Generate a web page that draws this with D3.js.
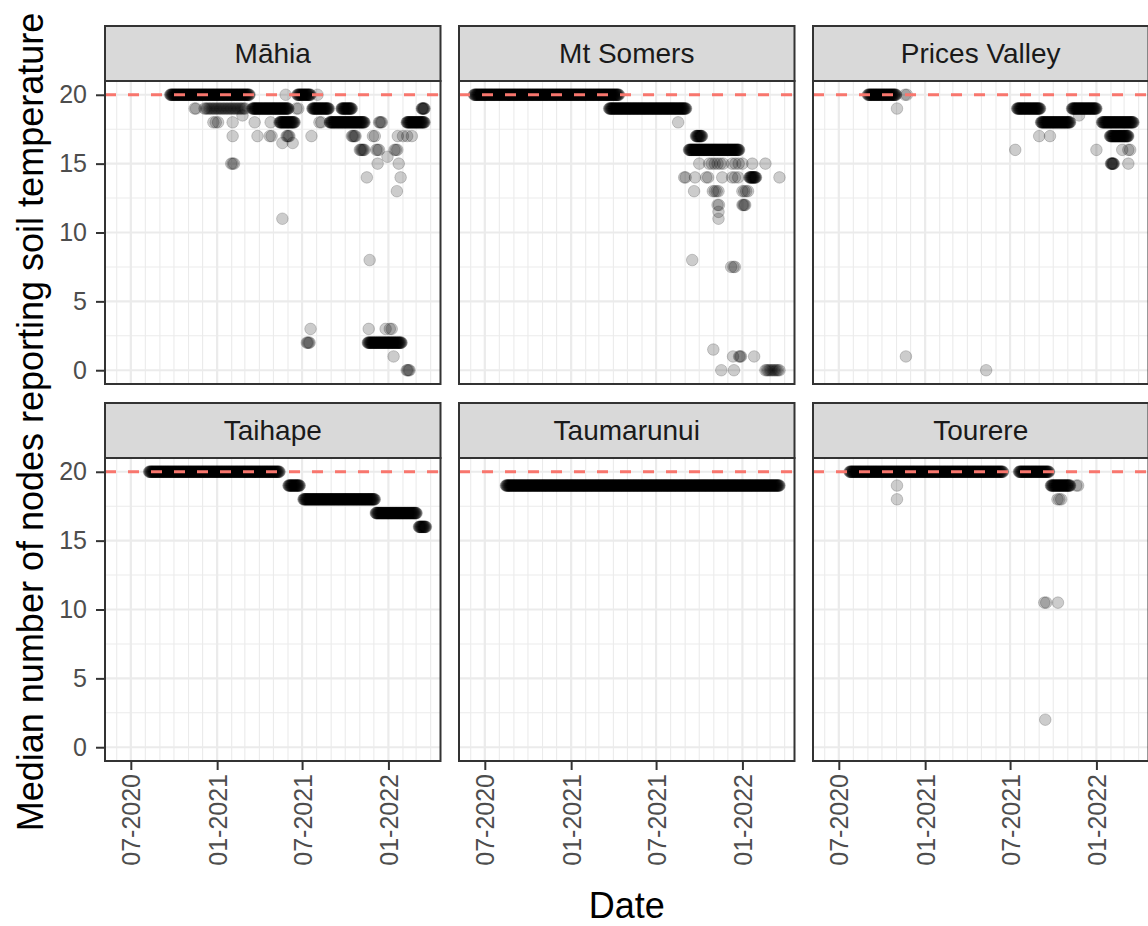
<!DOCTYPE html>
<html>
<head>
<meta charset="utf-8">
<script src="https://cdn.jsdelivr.net/npm/d3@7"></script>
<style>
  html, body { margin: 0; padding: 0; background: #fff; }
  svg { display: block; font-family: "Liberation Sans", Arial, sans-serif; }
</style>
</head>
<body>
<svg id="chart" width="1148" height="926"></svg>
<script>
// Sites, one facet each
const sites = ["Māhia", "Mt Somers", "Prices Valley", "Taihape", "Taumarunui", "Tourere"];

// Axis breaks
const xTickDates = ["2020-07-01", "2021-01-01", "2021-07-01", "2022-01-01"];
const yTicks = [0, 5, 10, 15, 20];
const yMinorTicks = [2.5, 7.5, 12.5, 17.5];
const targetNodes = 20;

// Stretches where a site's daily median held steady:
// [site, first day, last day, median nodes, days between readings]
const runs = [
  ["Māhia", "2020-09-23", "2021-03-11", 20, 1],
  ["Māhia", "2021-06-21", "2021-07-19", 20, 1],
  ["Māhia", "2020-12-05", "2021-03-02", 19, 3],
  ["Māhia", "2021-03-17", "2021-06-02", 19, 1],
  ["Māhia", "2021-07-23", "2021-08-27", 19, 1],
  ["Māhia", "2021-09-23", "2021-10-15", 19, 1],
  ["Māhia", "2022-03-13", "2022-03-19", 19, 1],
  ["Māhia", "2021-05-14", "2021-06-15", 18, 1],
  ["Māhia", "2021-08-29", "2021-11-11", 18, 1],
  ["Māhia", "2022-02-09", "2022-03-19", 18, 1],
  ["Māhia", "2021-11-01", "2021-11-11", 16, 2],
  ["Māhia", "2021-11-18", "2022-01-29", 2, 1],

  ["Mt Somers", "2020-06-08", "2021-04-13", 20, 1],
  ["Mt Somers", "2021-03-23", "2021-09-03", 19, 1],
  ["Mt Somers", "2021-09-24", "2021-10-07", 17, 1],
  ["Mt Somers", "2021-09-09", "2021-12-25", 16, 1],
  ["Mt Somers", "2021-10-22", "2021-11-21", 15, 6],
  ["Mt Somers", "2022-01-16", "2022-01-30", 14, 1],
  ["Mt Somers", "2022-02-19", "2022-03-23", 0, 3],

  ["Prices Valley", "2020-09-01", "2020-10-31", 20, 1],
  ["Prices Valley", "2021-07-16", "2021-09-03", 19, 1],
  ["Prices Valley", "2021-11-10", "2022-01-01", 19, 1],
  ["Prices Valley", "2021-09-05", "2021-11-06", 18, 1],
  ["Prices Valley", "2022-01-13", "2022-03-21", 18, 1],
  ["Prices Valley", "2022-01-30", "2022-03-10", 17, 1],

  ["Taihape", "2020-08-09", "2021-05-14", 20, 1],
  ["Taihape", "2021-06-02", "2021-06-26", 19, 1],
  ["Taihape", "2021-07-04", "2021-12-03", 18, 1],
  ["Taihape", "2021-12-05", "2022-03-02", 17, 1],
  ["Taihape", "2022-03-07", "2022-03-22", 16, 1],

  ["Taumarunui", "2020-08-15", "2022-03-21", 19, 1],

  ["Tourere", "2020-07-24", "2021-06-16", 20, 1],
  ["Tourere", "2021-07-20", "2021-09-22", 20, 1],
  ["Tourere", "2021-09-26", "2021-11-06", 19, 1]
];

// Single days off the usual level: [site, day, median nodes]
const days = [
  ["Māhia", "2021-05-27", 20], ["Māhia", "2021-08-03", 20],
  ["Māhia", "2020-11-14", 19], ["Māhia", "2020-11-17", 19], ["Māhia", "2021-06-19", 19], ["Māhia", "2021-06-23", 19],
  ["Māhia", "2021-02-24", 18.5],
  ["Māhia", "2020-12-24", 18], ["Māhia", "2020-12-29", 18], ["Māhia", "2021-01-03", 18], ["Māhia", "2021-02-03", 18],
  ["Māhia", "2021-03-22", 18], ["Māhia", "2021-04-25", 18], ["Māhia", "2021-08-07", 18], ["Māhia", "2021-08-11", 18],
  ["Māhia", "2021-12-12", 18], ["Māhia", "2021-12-14", 18], ["Māhia", "2021-12-16", 18], ["Māhia", "2021-12-18", 18],
  ["Māhia", "2021-02-03", 17], ["Māhia", "2021-03-28", 17], ["Māhia", "2021-04-23", 17], ["Māhia", "2021-04-27", 17],
  ["Māhia", "2021-05-29", 17], ["Māhia", "2021-05-31", 17], ["Māhia", "2021-06-02", 17], ["Māhia", "2021-06-04", 17],
  ["Māhia", "2021-07-21", 17], ["Māhia", "2021-10-15", 17], ["Māhia", "2021-10-17", 17], ["Māhia", "2021-10-19", 17],
  ["Māhia", "2021-10-21", 17], ["Māhia", "2021-10-23", 17], ["Māhia", "2021-11-29", 17], ["Māhia", "2021-12-03", 17],
  ["Māhia", "2022-01-21", 17], ["Māhia", "2022-02-01", 17], ["Māhia", "2022-02-10", 17], ["Māhia", "2022-02-20", 17],
  ["Māhia", "2021-05-20", 16.5], ["Māhia", "2021-06-11", 16.5],
  ["Māhia", "2021-12-06", 16], ["Māhia", "2021-12-09", 16], ["Māhia", "2021-12-12", 16],
  ["Māhia", "2022-01-14", 16], ["Māhia", "2022-01-17", 16], ["Māhia", "2022-01-20", 16],
  ["Māhia", "2021-12-30", 15.5],
  ["Māhia", "2021-01-31", 15], ["Māhia", "2021-02-03", 15], ["Māhia", "2021-02-06", 15],
  ["Māhia", "2021-12-09", 15], ["Māhia", "2022-01-23", 15],
  ["Māhia", "2021-11-16", 14], ["Māhia", "2022-01-27", 14],
  ["Māhia", "2022-01-19", 13],
  ["Māhia", "2021-05-20", 11],
  ["Māhia", "2021-11-22", 8],
  ["Māhia", "2021-07-19", 3], ["Māhia", "2021-11-20", 3], ["Māhia", "2021-12-26", 3], ["Māhia", "2022-01-04", 3], ["Māhia", "2022-01-08", 3],
  ["Māhia", "2021-07-11", 2], ["Māhia", "2021-07-13", 2], ["Māhia", "2021-07-15", 2], ["Māhia", "2021-07-17", 2],
  ["Māhia", "2022-01-12", 1],
  ["Māhia", "2022-02-09", 0], ["Māhia", "2022-02-11", 0], ["Māhia", "2022-02-13", 0], ["Māhia", "2022-02-15", 0],

  ["Mt Somers", "2021-08-17", 18],
  ["Mt Somers", "2021-10-01", 15], ["Mt Somers", "2021-12-10", 15], ["Mt Somers", "2021-12-17", 15], ["Mt Somers", "2021-12-24", 15],
  ["Mt Somers", "2022-01-01", 15], ["Mt Somers", "2022-01-22", 15], ["Mt Somers", "2022-02-19", 15],
  ["Mt Somers", "2021-08-30", 14], ["Mt Somers", "2021-09-02", 14], ["Mt Somers", "2021-09-22", 14], ["Mt Somers", "2021-10-16", 14],
  ["Mt Somers", "2021-10-20", 14], ["Mt Somers", "2021-11-19", 14], ["Mt Somers", "2021-12-10", 14], ["Mt Somers", "2021-12-16", 14],
  ["Mt Somers", "2021-12-23", 14], ["Mt Somers", "2022-03-21", 14],
  ["Mt Somers", "2021-09-20", 13], ["Mt Somers", "2021-10-30", 13], ["Mt Somers", "2021-11-03", 13], ["Mt Somers", "2021-11-07", 13],
  ["Mt Somers", "2021-11-11", 13], ["Mt Somers", "2022-01-01", 13], ["Mt Somers", "2022-01-05", 13], ["Mt Somers", "2022-01-09", 13],
  ["Mt Somers", "2022-01-13", 13],
  ["Mt Somers", "2021-11-09", 12], ["Mt Somers", "2021-11-12", 12], ["Mt Somers", "2022-01-01", 12], ["Mt Somers", "2022-01-03", 12],
  ["Mt Somers", "2022-01-05", 12], ["Mt Somers", "2022-01-07", 12],
  ["Mt Somers", "2021-11-11", 11.5], ["Mt Somers", "2021-11-11", 11],
  ["Mt Somers", "2021-09-16", 8],
  ["Mt Somers", "2021-12-08", 7.5], ["Mt Somers", "2021-12-13", 7.5], ["Mt Somers", "2021-12-16", 7.5],
  ["Mt Somers", "2021-10-31", 1.5],
  ["Mt Somers", "2021-12-12", 1], ["Mt Somers", "2021-12-25", 1], ["Mt Somers", "2021-12-27", 1], ["Mt Somers", "2021-12-29", 1],
  ["Mt Somers", "2022-01-26", 1],
  ["Mt Somers", "2021-11-17", 0], ["Mt Somers", "2021-12-14", 0],

  ["Prices Valley", "2020-11-19", 20], ["Prices Valley", "2020-11-23", 20],
  ["Prices Valley", "2020-11-02", 19],
  ["Prices Valley", "2021-11-25", 18.5],
  ["Prices Valley", "2021-09-01", 17], ["Prices Valley", "2021-09-24", 17],
  ["Prices Valley", "2021-07-12", 16], ["Prices Valley", "2022-01-01", 16], ["Prices Valley", "2022-02-25", 16],
  ["Prices Valley", "2022-03-10", 16], ["Prices Valley", "2022-03-14", 16],
  ["Prices Valley", "2022-02-01", 15], ["Prices Valley", "2022-02-02", 15], ["Prices Valley", "2022-02-03", 15],
  ["Prices Valley", "2022-02-04", 15], ["Prices Valley", "2022-02-05", 15], ["Prices Valley", "2022-02-06", 15],
  ["Prices Valley", "2022-02-07", 15], ["Prices Valley", "2022-03-10", 15],
  ["Prices Valley", "2020-11-21", 1],
  ["Prices Valley", "2021-05-11", 0],

  ["Tourere", "2020-11-02", 19], ["Tourere", "2021-11-19", 19], ["Tourere", "2021-11-23", 19],
  ["Tourere", "2020-11-02", 18], ["Tourere", "2021-10-10", 18], ["Tourere", "2021-10-14", 18], ["Tourere", "2021-10-18", 18],
  ["Tourere", "2021-09-12", 10.5], ["Tourere", "2021-09-16", 10.5], ["Tourere", "2021-10-11", 10.5],
  ["Tourere", "2021-09-14", 2]
];

const parse = d3.utcParse("%Y-%m-%d");

// One observation per reading day
const obs = [
  ...runs.flatMap(([site, from, to, nodes, every]) =>
    d3.utcDay.range(parse(from), d3.utcDay.offset(parse(to), 1), every)
      .map(date => ({ site, date, nodes }))),
  ...days.map(([site, date, nodes]) => ({ site, date: parse(date), nodes }))
];

// Facet layout
const colLeft = [105, 459, 813];
const rowTop = [81, 458];
const panelW = 335.5, panelH = 303, stripH = 55;
const tickFont = "25px", stripFont = "28px", titleFont = "36px";

const x = d3.scaleUtc()
  .domain([parse("2020-05-07"), parse("2022-04-22")])
  .range([0, panelW]);
const y = d3.scaleLinear().domain([-1, 21]).range([panelH, 0]);

const months = d3.utcMonth.range(...x.domain());
const majorMonths = months.filter(m => m.getUTCMonth() % 6 === 0);
const minorMonths = months.filter(m => m.getUTCMonth() % 6 !== 0);

const svg = d3.select("#chart");
const defs = svg.append("defs");

sites.forEach((site, i) => {
  const col = i % 3, row = Math.floor(i / 3);
  const g = svg.append("g").attr("transform", `translate(${colLeft[col]},${rowTop[row]})`);

  g.append("rect").attr("width", panelW).attr("height", panelH).attr("fill", "#fff");

  // grid
  const grid = g.append("g").attr("stroke", "#ebebeb");
  grid.selectAll("line.vmin").data(minorMonths).join("line")
    .attr("x1", d => x(d)).attr("x2", d => x(d)).attr("y1", 0).attr("y2", panelH)
    .attr("stroke-width", 1.1);
  grid.selectAll("line.hmin").data(yMinorTicks).join("line")
    .attr("y1", d => y(d)).attr("y2", d => y(d)).attr("x1", 0).attr("x2", panelW)
    .attr("stroke-width", 1.1);
  grid.selectAll("line.vmaj").data(majorMonths).join("line")
    .attr("x1", d => x(d)).attr("x2", d => x(d)).attr("y1", 0).attr("y2", panelH)
    .attr("stroke-width", 2.2);
  grid.selectAll("line.hmaj").data(yTicks).join("line")
    .attr("y1", d => y(d)).attr("y2", d => y(d)).attr("x1", 0).attr("x2", panelW)
    .attr("stroke-width", 2.2);

  const clipId = `panel-clip-${i}`;
  defs.append("clipPath").attr("id", clipId)
    .append("rect").attr("width", panelW).attr("height", panelH);
  const plot = g.append("g").attr("clip-path", `url(#${clipId})`);

  // readings
  plot.append("g").selectAll("circle")
    .data(obs.filter(d => d.site === site))
    .join("circle")
    .attr("cx", d => x(d.date))
    .attr("cy", d => y(d.nodes))
    .attr("r", 5.8)
    .attr("fill", "#000").attr("fill-opacity", 0.2)
    .attr("stroke", "#000").attr("stroke-opacity", 0.18).attr("stroke-width", 1);

  // expected number of nodes
  plot.append("line")
    .attr("x1", 0).attr("x2", panelW)
    .attr("y1", y(targetNodes)).attr("y2", y(targetNodes))
    .attr("stroke", "#F8766D").attr("stroke-width", 3)
    .attr("stroke-dasharray", "11,12");

  // panel border
  g.append("rect").attr("width", panelW).attr("height", panelH)
    .attr("fill", "none").attr("stroke", "#333").attr("stroke-width", 2);

  // strip
  g.append("rect").attr("x", 0).attr("y", -stripH).attr("width", panelW).attr("height", stripH)
    .attr("fill", "#d9d9d9").attr("stroke", "#333").attr("stroke-width", 2);
  g.append("text")
    .attr("x", panelW / 2).attr("y", -stripH / 2).attr("dy", "0.35em")
    .attr("text-anchor", "middle").attr("fill", "#1a1a1a")
    .style("font-size", stripFont)
    .text(site);

  // y axis on the left column
  if (col === 0) {
    const ay = g.append("g")
      .call(d3.axisLeft(y).tickValues(yTicks).tickSize(9).tickPadding(9).tickFormat(d3.format("d")))
      .attr("font-family", null).attr("font-size", null);
    ay.select(".domain").remove();
    ay.selectAll(".tick line").attr("stroke", "#333").attr("stroke-width", 2);
    ay.selectAll(".tick text").attr("fill", "#4d4d4d").style("font-size", tickFont);
  }

  // x axis on the bottom row
  if (row === 1) {
    const ax = g.append("g").attr("transform", `translate(0,${panelH})`)
      .call(d3.axisBottom(x).tickValues(xTickDates.map(parse)).tickSize(9)
        .tickFormat(d3.utcFormat("%m-%Y")))
      .attr("font-family", null).attr("font-size", null);
    ax.select(".domain").remove();
    ax.selectAll(".tick line").attr("stroke", "#333").attr("stroke-width", 2);
    ax.selectAll(".tick text")
      .attr("fill", "#4d4d4d").style("font-size", tickFont)
      .attr("transform", "rotate(-90)")
      .attr("text-anchor", "end")
      .attr("x", -13).attr("y", 0).attr("dy", "0.36em");
  }
});

// axis titles
svg.append("text")
  .attr("x", (colLeft[0] + colLeft[2] + panelW) / 2).attr("y", 918)
  .attr("text-anchor", "middle").attr("fill", "#000")
  .style("font-size", titleFont)
  .text("Date");

svg.append("text")
  .attr("transform", "translate(30,422) rotate(-90)")
  .attr("dy", "0.36em")
  .attr("text-anchor", "middle").attr("fill", "#000")
  .style("font-size", titleFont)
  .text("Median number of nodes reporting soil temperature");
</script>
</body>
</html>
